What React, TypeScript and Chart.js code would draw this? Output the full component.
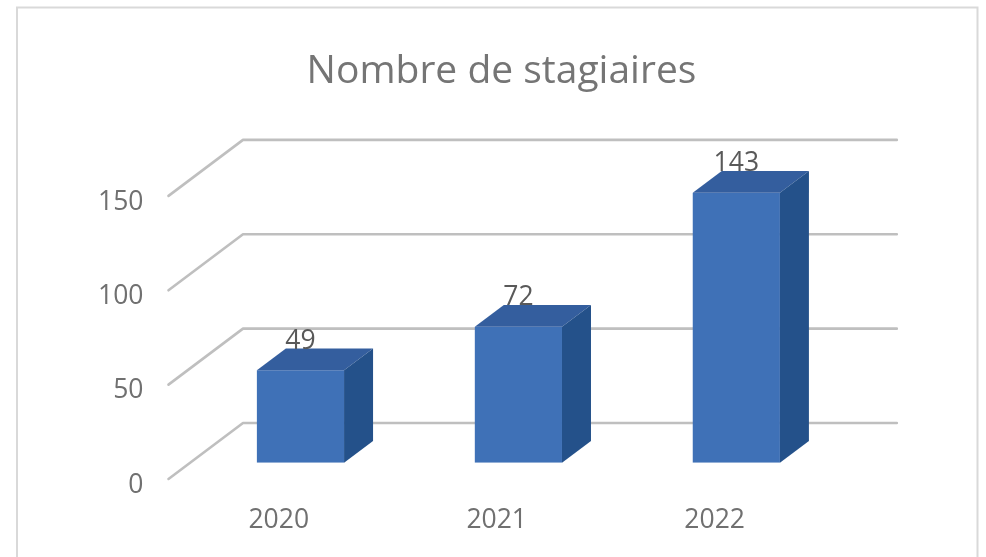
import React, { useEffect, useRef } from 'react';
import { Chart, registerables } from 'chart.js';

Chart.register(...registerables);

// ---- data ----
const categories: string[] = ['2020', '2021', '2022'];
const stagiaires: number[] = [49, 72, 143];
const yMin = 0;
const yMax = 150;
const yStep = 50;
const titleText = 'Nombre de stagiaires';

// ---- style ----
const FONT = "'Open Sans', 'Noto Sans', sans-serif";
const BAR_FRONT = '#3f71b7';
const BAR_TOP = '#345e9e';
const BAR_SIDE = '#24518a';
const GRID = '#bfbfbf';

// oblique 3D offsets (px)
const BAR_DEPTH = { dx: 29, dy: -21.7 };
const WALL_BACK = { dx: 51.5, dy: -39.7 };
const WALL_FRONT = { dx: -23, dy: 16.3 };

const plot3d = {
  id: 'plot3d',
  beforeDraw(chart: any) {
    const { ctx } = chart;
    ctx.save();
    ctx.fillStyle = '#ffffff';
    ctx.fillRect(0, 0, chart.width, chart.height);
    ctx.strokeStyle = '#d9d9d9';
    ctx.lineWidth = 2;
    ctx.strokeRect(17, 7.5, 960.5, 700);
    ctx.restore();
  },
  beforeDatasetsDraw(chart: any) {
    const { ctx, chartArea, scales } = chart;
    const ys = scales.y;
    ctx.save();
    ctx.strokeStyle = GRID;
    ctx.lineWidth = 2.6;
    ctx.lineCap = 'round';
    ctx.lineJoin = 'round';
    ys.ticks.forEach((t: any) => {
      const py = ys.getPixelForValue(t.value);
      ctx.beginPath();
      ctx.moveTo(chartArea.left + WALL_FRONT.dx, py + WALL_FRONT.dy);
      ctx.lineTo(chartArea.left + WALL_BACK.dx, py + WALL_BACK.dy);
      ctx.lineTo(chartArea.right + WALL_BACK.dx, py + WALL_BACK.dy);
      ctx.stroke();
    });
    ctx.restore();
  },
  afterDatasetsDraw(chart: any) {
    const { ctx } = chart;
    const meta = chart.getDatasetMeta(0);
    const values = chart.data.datasets[0].data as number[];
    ctx.save();
    meta.data.forEach((bar: any, i: number) => {
      const { x, y, base, width } = bar.getProps(['x', 'y', 'base', 'width'], true);
      const l = x - width / 2;
      const r = x + width / 2;
      const { dx, dy } = BAR_DEPTH;
      // top face
      ctx.fillStyle = BAR_TOP;
      ctx.beginPath();
      ctx.moveTo(l, y);
      ctx.lineTo(r, y);
      ctx.lineTo(r + dx, y + dy);
      ctx.lineTo(l + dx, y + dy);
      ctx.closePath();
      ctx.fill();
      // side face
      ctx.fillStyle = BAR_SIDE;
      ctx.beginPath();
      ctx.moveTo(r, y);
      ctx.lineTo(r + dx, y + dy);
      ctx.lineTo(r + dx, base + dy);
      ctx.lineTo(r, base);
      ctx.closePath();
      ctx.fill();
      // value label
      ctx.fillStyle = '#595959';
      ctx.font = `26.5px ${FONT}`;
      ctx.textAlign = 'center';
      ctx.textBaseline = 'alphabetic';
      ctx.fillText(String(values[i]), x, y + dy);
    });
    ctx.restore();
  },
};

export default function App() {
  const ref = useRef<HTMLCanvasElement | null>(null);

  useEffect(() => {
    if (!ref.current) return;
    const chart = new Chart(ref.current, {
      type: 'bar',
      data: {
        labels: categories,
        datasets: [
          {
            label: titleText,
            data: stagiaires,
            backgroundColor: BAR_FRONT,
            borderWidth: 0,
            barPercentage: 0.4,
            categoryPercentage: 1.0,
            yAxisID: 'y',
          },
        ],
      },
      options: {
        responsive: false,
        animation: false,
        devicePixelRatio: 1,
        layout: { padding: { left: 17, top: 0, right: 0, bottom: 4.3 } },
        plugins: {
          legend: { display: false },
          tooltip: { enabled: false },
          title: {
            display: true,
            text: titleText,
            color: '#757575',
            font: { family: FONT, size: 39, weight: 'normal' },
            padding: { top: 48, bottom: 84.8 },
          },
        },
        scales: {
          x: {
            grid: { display: false, drawTicks: false },
            border: { display: false },
            ticks: {
              color: '#707070',
              font: { family: FONT, size: 26.5 },
              padding: 42,
              labelOffset: -21.7,
              maxRotation: 0,
            },
            afterFit: (s: any) => {
              s.height = 90;
            },
          },
          y: {
            min: yMin,
            max: yMax,
            position: 'left',
            grid: { display: false, drawTicks: false },
            border: { display: false },
            ticks: {
              stepSize: yStep,
              color: '#707070',
              font: { family: FONT, size: 26.5 },
              padding: 48,
              labelOffset: 22.5,
            },
            afterFit: (s: any) => {
              s.width = 174.5;
            },
          },
          y2: {
            type: 'linear',
            position: 'right',
            display: true,
            grid: { display: false, drawTicks: false },
            border: { display: false },
            ticks: { display: false },
            afterFit: (s: any) => {
              s.width = 140.7;
            },
          },
        },
      },
      plugins: [plot3d],
    });
    return () => chart.destroy();
  }, []);

  return (
    <div style={{ position: 'fixed', left: 0, top: 0, width: 986, height: 557 }}>
      <canvas ref={ref} width={986} height={557} />
    </div>
  );
}
